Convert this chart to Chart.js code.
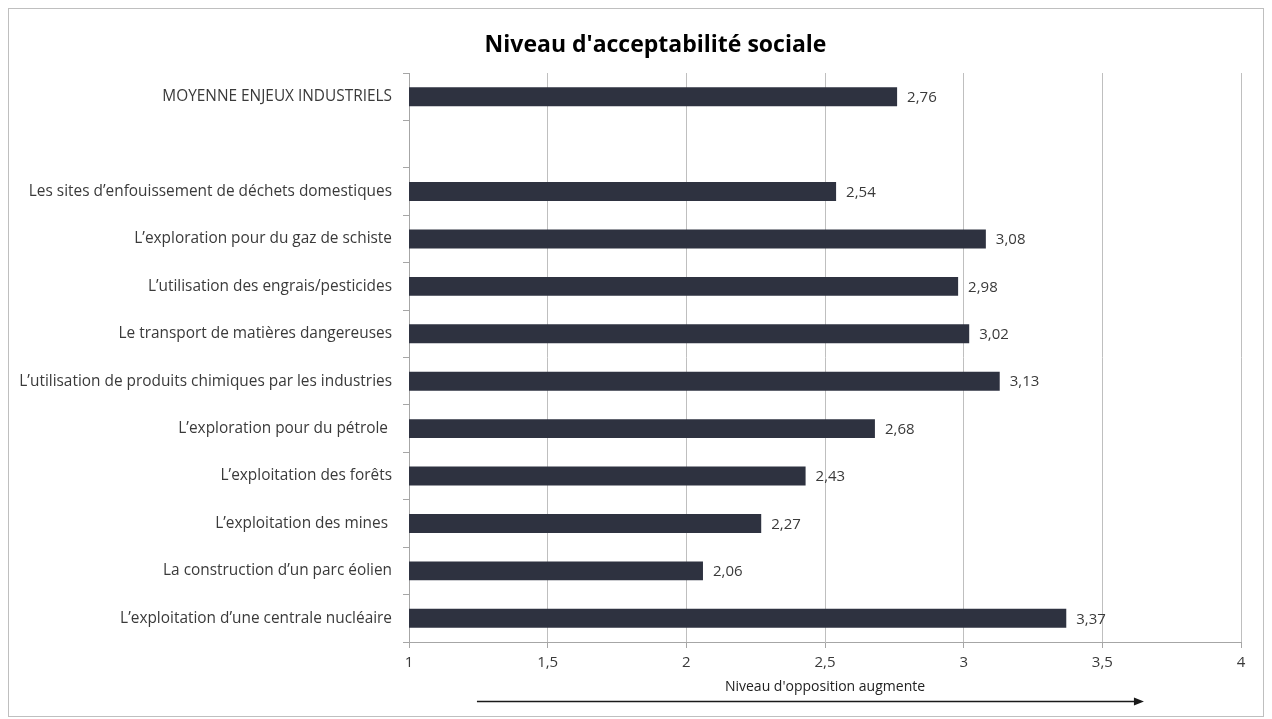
<!DOCTYPE html>
<html>
<head>
<meta charset="utf-8">
<script src="https://cdn.jsdelivr.net/npm/chart.js@4"></script>
<style>
  html, body { margin: 0; padding: 0; background: #ffffff; }
  #c { display: block; }
</style>
</head>
<body>
<canvas id="c" width="1272" height="719"></canvas>
<script>
// Enjeux industriels et leur niveau moyen d'acceptabilité sociale
const categories = [
  "MOYENNE ENJEUX INDUSTRIELS",
  "",
  "Les sites d\u2019enfouissement de déchets domestiques",
  "L\u2019exploration pour du gaz de schiste",
  "L\u2019utilisation des engrais/pesticides",
  "Le transport de matières dangereuses",
  "L\u2019utilisation de produits chimiques par les industries",
  "L\u2019exploration pour du pétrole ",
  "L\u2019exploitation des forêts",
  "L\u2019exploitation des mines ",
  "La construction d\u2019un parc éolien",
  "L\u2019exploitation d\u2019une centrale nucléaire"
];
const values = [2.76, null, 2.54, 3.08, 2.98, 3.02, 3.13, 2.68, 2.43, 2.27, 2.06, 3.37];
const xTicks = [1, 1.5, 2, 2.5, 3, 3.5, 4];
const chartTitle = "Niveau d'acceptabilité sociale";
const axisCaption = "Niveau d'opposition augmente";

const FONT = "'Open Sans', 'DejaVu Sans', sans-serif";
const TEXT = '#3a3a3a';
const fmt = v => String(v).replace('.', ',');

// Cadre gris autour de la figure
const framePlugin = {
  id: 'frame',
  beforeDraw(chart) {
    const ctx = chart.ctx;
    ctx.save();
    ctx.fillStyle = '#ffffff';
    ctx.fillRect(0, 0, chart.width, chart.height);
    ctx.strokeStyle = '#bfbfbf';
    ctx.lineWidth = 1;
    ctx.strokeRect(8.5, 8.5, 1255, 708);
    ctx.restore();
  }
};

// Le titre est centré sur la zone située à droite de la marge gauche
const titleShift = {
  id: 'titleShift',
  afterLayout(chart) {
    if (chart.titleBlock) chart.titleBlock.left = 70;
  }
};

// Valeur écrite au bout de chaque barre
const valueLabels = {
  id: 'valueLabels',
  afterDatasetsDraw(chart) {
    const ctx = chart.ctx;
    const meta = chart.getDatasetMeta(0);
    ctx.save();
    ctx.font = "15px " + FONT;
    ctx.fillStyle = TEXT;
    ctx.textAlign = 'left';
    ctx.textBaseline = 'middle';
    meta.data.forEach((bar, i) => {
      const v = values[i];
      if (v == null) return;
      ctx.fillText(fmt(v), bar.x + 10, bar.y + 1);
    });
    ctx.restore();
  }
};

// Flèche sous l'axe horizontal avec sa légende
const arrowPlugin = {
  id: 'arrow',
  afterDraw(chart) {
    const x = chart.scales.x;
    const ctx = chart.ctx;
    const x0 = x.getPixelForValue(1.245);
    const x1 = x.getPixelForValue(3.65);
    const y = 701.5;
    ctx.save();
    ctx.strokeStyle = '#1a1a1a';
    ctx.fillStyle = '#1a1a1a';
    ctx.lineWidth = 1.3;
    ctx.beginPath();
    ctx.moveTo(x0, y);
    ctx.lineTo(x1 - 8, y);
    ctx.stroke();
    ctx.beginPath();
    ctx.moveTo(x1, y);
    ctx.lineTo(x1 - 10, y - 4);
    ctx.lineTo(x1 - 10, y + 4);
    ctx.closePath();
    ctx.fill();
    ctx.font = "14px " + FONT;
    ctx.fillStyle = '#222222';
    ctx.textAlign = 'center';
    ctx.textBaseline = 'middle';
    ctx.fillText(axisCaption, x.getPixelForValue(2.5), 687);
    ctx.restore();
  }
};

new Chart(document.getElementById('c'), {
  type: 'bar',
  data: {
    labels: categories,
    datasets: [{
      data: values,
      backgroundColor: '#2e3240',
      borderWidth: 0,
      barPercentage: 0.4,
      categoryPercentage: 1.0
    }]
  },
  options: {
    indexAxis: 'y',
    responsive: false,
    animation: false,
    layout: { padding: { left: 0, right: 31, top: 0, bottom: 0 } },
    plugins: {
      legend: { display: false },
      tooltip: { enabled: false },
      title: {
        display: true,
        text: chartTitle,
        color: '#000000',
        font: { family: FONT, size: 23, weight: 'bold' },
        padding: { top: 32, bottom: 13.4 }
      }
    },
    scales: {
      x: {
        type: 'linear',
        min: 1,
        max: 4,
        afterBuildTicks(scale) { scale.ticks = xTicks.map(v => ({ value: v })); },
        afterFit(scale) { scale.height = 77; },
        ticks: {
          color: TEXT,
          font: { family: FONT, size: 15 },
          padding: 6,
          callback: v => fmt(v)
        },
        grid: { color: '#bfbfbf', tickLength: 6, tickColor: '#a6a6a6' },
        border: { display: true, color: '#a6a6a6' }
      },
      y: {
        afterFit(scale) { scale.width = 409; },
        ticks: {
          color: TEXT,
          font: { family: FONT, size: 15.4 },
          padding: 11,
          autoSkip: false
        },
        grid: { display: true, drawOnChartArea: false, drawTicks: true, tickLength: 6, color: '#a6a6a6', offset: true },
        border: { display: true, color: '#a6a6a6' }
      }
    }
  },
  plugins: [framePlugin, titleShift, valueLabels, arrowPlugin]
});
</script>
</body>
</html>
